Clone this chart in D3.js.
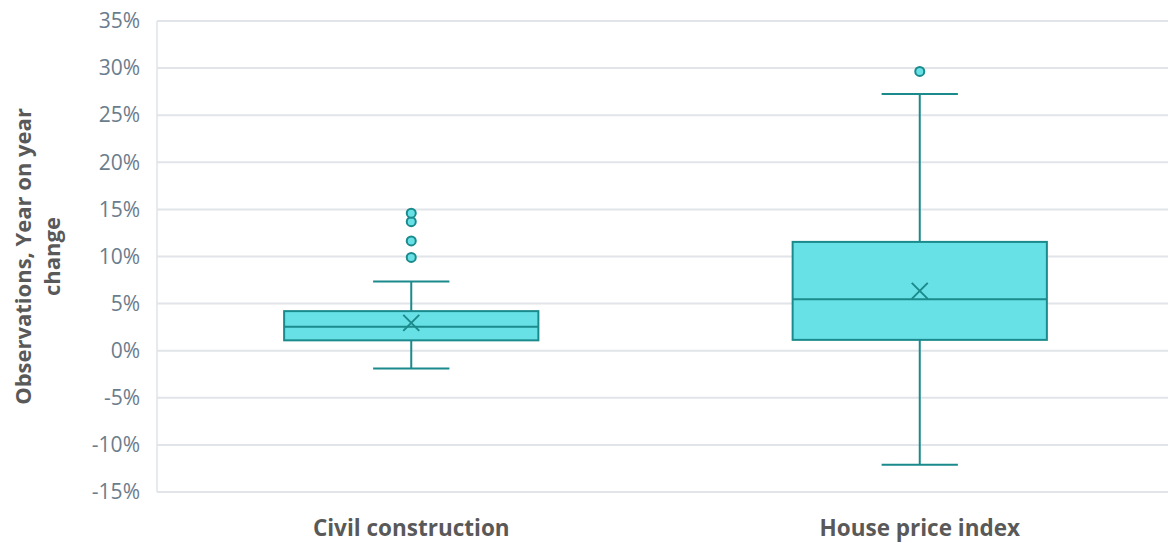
<!DOCTYPE html>
<html>
<head>
<meta charset="utf-8">
<script src="https://cdn.jsdelivr.net/npm/d3@7"></script>
<style>
  html, body { margin: 0; padding: 0; background: #ffffff; }
  svg { display: block; }
</style>
</head>
<body>
<svg id="chart" width="1168" height="543"></svg>
<script>
// Box-plot summaries of year-on-year change (percent)
const categories = ["Civil construction", "House price index"];
const q1Values = [1.1, 1.15];
const medianValues = [2.55, 5.45];
const q3Values = [4.2, 11.55];
const meanValues = [2.95, 6.35];
const whiskerLow = [-1.9, -12.1];
const whiskerHigh = [7.35, 27.25];
const outlierValues = [[9.9, 11.65, 13.7, 14.6], [29.65]];
const yTicks = [-15, -10, -5, 0, 5, 10, 15, 20, 25, 30, 35];

const W = 1168, H = 543;
const margin = { top: 21, bottom: 51, left: 157 };
const plotRight = 1174; // category bands run slightly past the visible edge

const svg = d3.select("#chart");

const x = d3.scaleBand()
  .domain(categories)
  .range([margin.left, plotRight])
  .paddingInner(0).paddingOuter(0);

const y = d3.scaleLinear()
  .domain([-15, 35])
  .range([H - margin.bottom, margin.top]);

const stroke = "#1b8a8c";
const fill = "#68e1e6";

// Horizontal gridlines
svg.append("g")
  .selectAll("line")
  .data(yTicks)
  .join("line")
  .attr("x1", margin.left)
  .attr("x2", W)
  .attr("y1", d => y(d))
  .attr("y2", d => y(d))
  .attr("stroke", "#e1e4e8")
  .attr("stroke-width", 2);

// Left axis line
svg.append("line")
  .attr("x1", margin.left).attr("x2", margin.left)
  .attr("y1", y(35)).attr("y2", y(-15))
  .attr("stroke", "#e1e4e8").attr("stroke-width", 1.5);

// Y axis tick labels
const yAxis = d3.axisLeft(y)
  .tickValues(yTicks)
  .tickFormat(d => d + "%")
  .tickSize(0)
  .tickPadding(17);

const gy = svg.append("g")
  .attr("transform", `translate(${margin.left},0)`)
  .call(yAxis);
gy.select(".domain").remove();
gy.selectAll("text")
  .attr("font-family", "'Open Sans', sans-serif")
  .attr("font-size", 21)
  .attr("fill", "#6b7c8d");

// X axis category labels
const xAxis = d3.axisBottom(x).tickSize(0).tickPadding(28);
const gx = svg.append("g")
  .attr("transform", `translate(0,${H - margin.bottom})`)
  .call(xAxis);
gx.select(".domain").remove();
gx.selectAll("text")
  .attr("font-family", "'Open Sans', sans-serif")
  .attr("font-size", 22.5)
  .attr("font-weight", 700)
  .attr("fill", "#595959");

// Y axis title
const title = svg.append("text")
  .attr("transform", `translate(33,${(y(35) + y(-15)) / 2}) rotate(-90)`)
  .attr("text-anchor", "middle")
  .attr("font-family", "'Open Sans', sans-serif")
  .attr("font-size", 22)
  .attr("font-weight", 700)
  .attr("fill", "#595959");
title.append("tspan").attr("x", 0).attr("dy", -2).text("Observations, Year on year");
title.append("tspan").attr("x", 0).attr("dy", 29).text("change");

// Boxes
const boxW = x.bandwidth() * 0.5;
const capW = x.bandwidth() * 0.15;
const cx = i => x(categories[i]) + x.bandwidth() / 2;

const g = svg.append("g");
categories.forEach((c, i) => {
  const gi = g.append("g");
  // whiskers
  gi.append("line")
    .attr("x1", cx(i)).attr("x2", cx(i))
    .attr("y1", y(whiskerHigh[i])).attr("y2", y(q3Values[i]))
    .attr("stroke", stroke).attr("stroke-width", 2);
  gi.append("line")
    .attr("x1", cx(i)).attr("x2", cx(i))
    .attr("y1", y(q1Values[i])).attr("y2", y(whiskerLow[i]))
    .attr("stroke", stroke).attr("stroke-width", 2);
  [whiskerHigh[i], whiskerLow[i]].forEach(v => {
    gi.append("line")
      .attr("x1", cx(i) - capW / 2).attr("x2", cx(i) + capW / 2)
      .attr("y1", y(v)).attr("y2", y(v))
      .attr("stroke", stroke).attr("stroke-width", 2);
  });
  // box
  gi.append("rect")
    .attr("x", cx(i) - boxW / 2)
    .attr("width", boxW)
    .attr("y", y(q3Values[i]))
    .attr("height", y(q1Values[i]) - y(q3Values[i]))
    .attr("fill", fill)
    .attr("stroke", stroke).attr("stroke-width", 2);
  // median
  gi.append("line")
    .attr("x1", cx(i) - boxW / 2).attr("x2", cx(i) + boxW / 2)
    .attr("y1", y(medianValues[i])).attr("y2", y(medianValues[i]))
    .attr("stroke", stroke).attr("stroke-width", 2);
  // mean marker
  const my = y(meanValues[i]), s = 8;
  gi.append("path")
    .attr("d", `M${cx(i) - s},${my - s}L${cx(i) + s},${my + s}M${cx(i) - s},${my + s}L${cx(i) + s},${my - s}`)
    .attr("stroke", stroke).attr("stroke-width", 2).attr("fill", "none");
  // outliers
  gi.selectAll("circle")
    .data(outlierValues[i])
    .join("circle")
    .attr("cx", cx(i))
    .attr("cy", d => y(d))
    .attr("r", 4.5)
    .attr("fill", fill)
    .attr("stroke", stroke).attr("stroke-width", 2);
});
</script>
</body>
</html>
